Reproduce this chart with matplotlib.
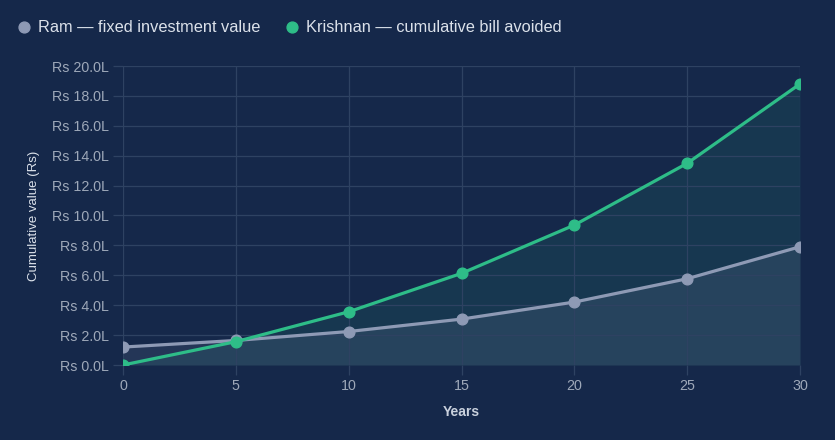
import matplotlib
matplotlib.use("Agg")
import matplotlib.pyplot as plt
from matplotlib.lines import Line2D
from matplotlib.ticker import FuncFormatter

years = [0, 5, 10, 15, 20, 25, 30]
ram_values = [1.20, 1.64, 2.24, 3.07, 4.21, 5.77, 7.91]        # in lakh Rs
krishnan_values = [0.0, 1.56, 3.56, 6.13, 9.36, 13.49, 18.80]  # in lakh Rs
series_names = ["Ram — fixed investment value", "Krishnan — cumulative bill avoided"]
x_ticks = [0, 5, 10, 15, 20, 25, 30]
y_ticks = [0, 2, 4, 6, 8, 10, 12, 14, 16, 18, 20]

BG = "#15284a"
RAM = "#8e9ab5"
KRI = "#2ebd88"
GRID = "#2e4262"
TICK = "#9ea8b9"
TEXT = "#dbe1ea"

plt.rcParams['font.family'] = ['Liberation Sans', 'DejaVu Sans']

fig = plt.figure(figsize=(8.35, 4.40), dpi=100, facecolor=BG)
ax = fig.add_axes([123/835, 1-365/440, (800-123)/835, (365-66)/440])
ax.set_facecolor(BG)

ax.fill_between(years, krishnan_values, 0, color=KRI, alpha=0.10, lw=0, zorder=1)
ax.fill_between(years, ram_values, 0, color=RAM, alpha=0.13, lw=0, zorder=1)
ax.plot(years, ram_values, color=RAM, lw=2.3, marker='o', ms=7.7, zorder=3, solid_capstyle='round')
ax.plot(years, krishnan_values, color=KRI, lw=2.3, marker='o', ms=7.7, zorder=4, solid_capstyle='round')

ax.set_xlim(0, 30)
ax.set_ylim(0, 20)
ax.set_xticks(x_ticks)
ax.set_yticks(y_ticks)
ax.yaxis.set_major_formatter(FuncFormatter(lambda v, p: f"Rs {v:.1f}L"))
ax.grid(True, color=GRID, lw=0.9, zorder=0)
for s in ax.spines.values():
    s.set_visible(False)
ax.tick_params(axis='both', colors=GRID, labelcolor=TICK, labelsize=10.3, length=7, width=0.9, pad=3)

ax.set_xlabel("Years", color="#c9d1dd", fontsize=10, fontweight='bold', labelpad=9)
ax.set_ylabel("Cumulative value (Rs)", color=TEXT, fontsize=9.5, labelpad=9)

handles = [Line2D([], [], ls='none', marker='o', ms=7.8, color=RAM),
           Line2D([], [], ls='none', marker='o', ms=7.8, color=KRI)]
leg = fig.legend(handles, series_names, loc='center left', bbox_to_anchor=(2/835, 1-28/440),
                 ncol=2, frameon=False, handlelength=0.9, handletextpad=0.4, columnspacing=1.45,
                 fontsize=11.8)
for t in leg.get_texts():
    t.set_color(TEXT)

fig.savefig("out.png", dpi=100, facecolor=BG)
